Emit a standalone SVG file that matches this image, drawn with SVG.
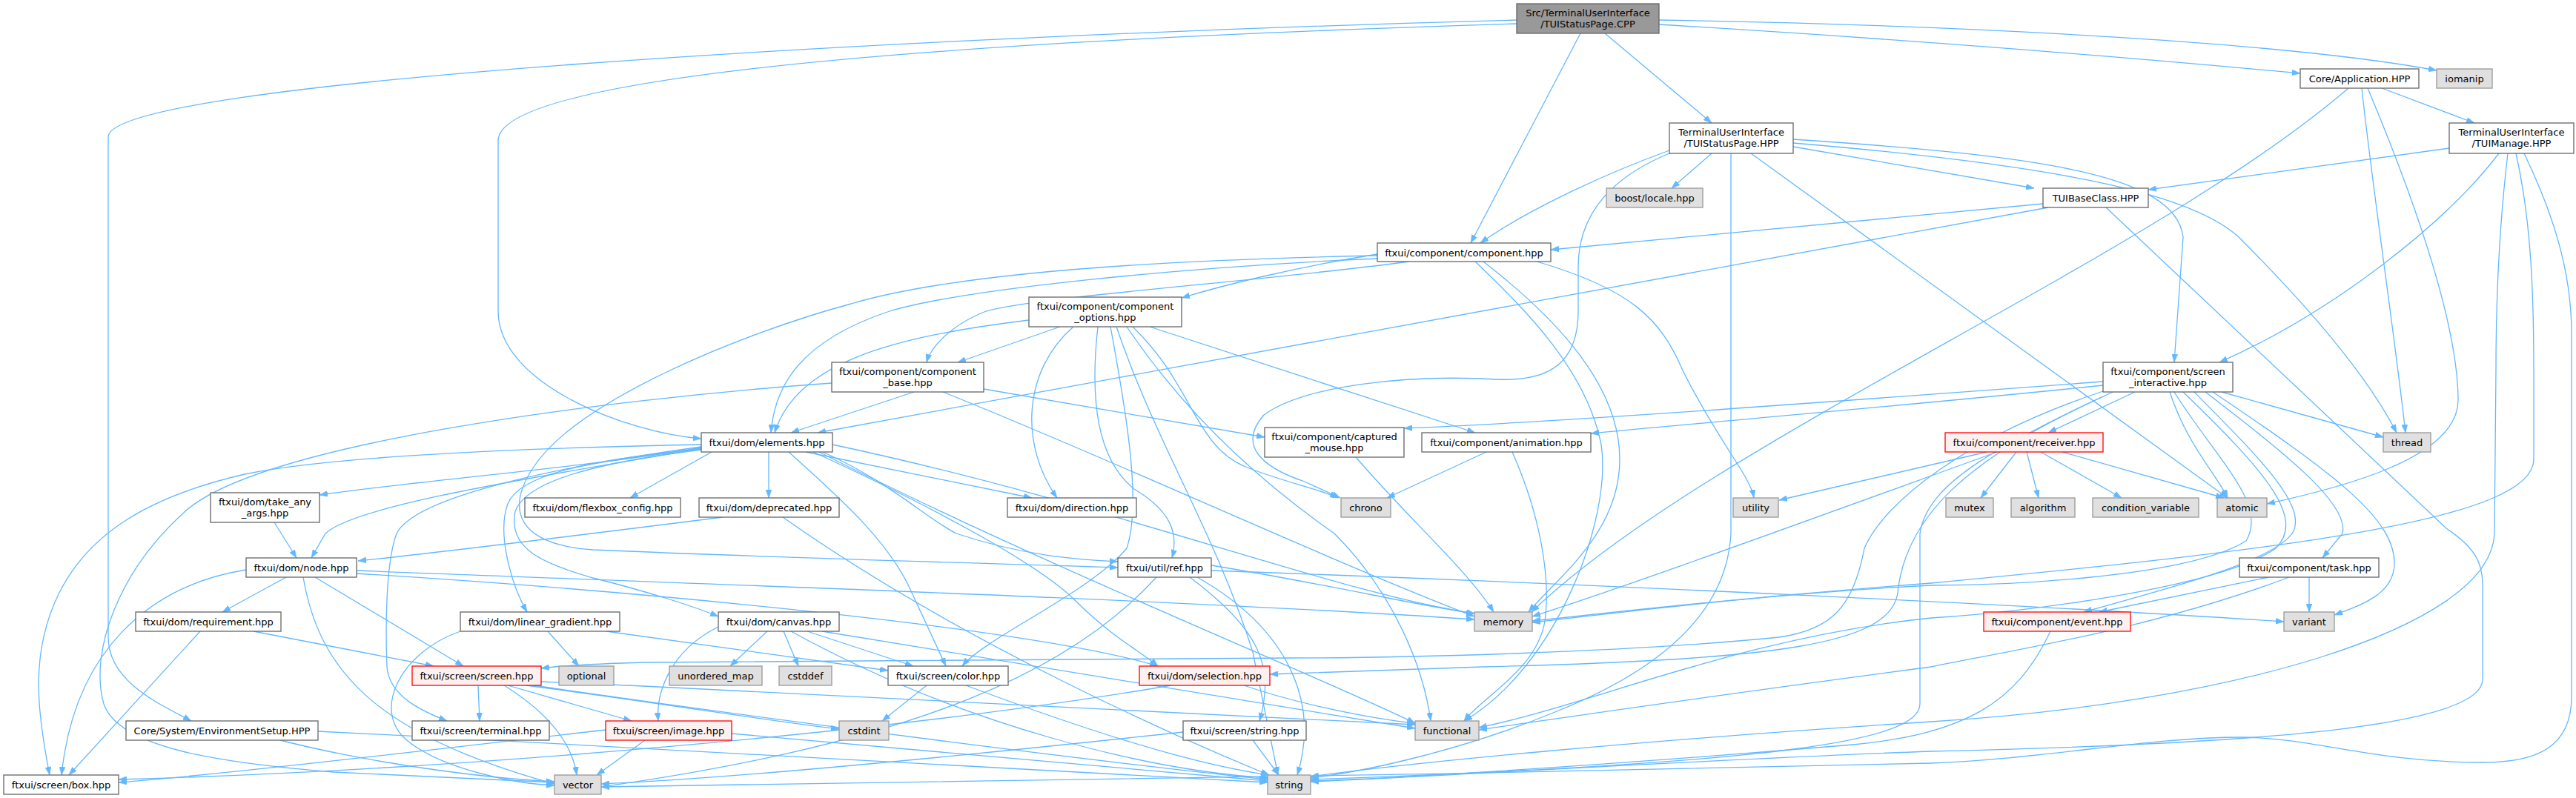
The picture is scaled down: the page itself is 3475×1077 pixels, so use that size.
<svg xmlns="http://www.w3.org/2000/svg" width="3475" height="1077" viewBox="0 0 3475 1077">
<style>
rect{stroke-width:1.3}
.n{fill:#fff;stroke:#666}
.g{fill:#e0e0e0;stroke:#999}
.r{fill:#fff0f0;stroke:#f00}
.root{fill:#999;stroke:#666}
text{font-family:"DejaVu Sans","Liberation Sans",sans-serif;font-size:13px;fill:#000;text-anchor:middle}
#edges path{fill:none;stroke:#63b8ff;stroke-width:1.3;marker-end:url(#a)}
</style>
<defs>
<marker id="a" viewBox="0 0 11 8" refX="11" refY="4" markerWidth="11" markerHeight="8" markerUnits="userSpaceOnUse" orient="auto"><path d="M0,0 L11,4 L0,8 z" fill="#63b8ff" stroke="#63b8ff" stroke-width="0.5"/></marker>
</defs>
<rect width="3475" height="1077" fill="#fff"/>
<g id="edges">
<path d="M2046,27 C1200,50 146,110 146,185 L146,860 C146,920 215,950 258,973"/>
<path d="M2046,32 C1300,55 672,100 672,190 L672,420 C672,520 850,585 946,592"/>
<path d="M2132,45 L1984,328"/>
<path d="M2165,45 L2309,166"/>
<path d="M2238,33 C2600,55 2900,80 3103,99"/>
<path d="M2238,27 C2700,35 3100,60 3287,95"/>
<path d="M3168,119 C2900,350 2300,600 2066,826"/>
<path d="M3186,119 C3200,250 3230,450 3245,584"/>
<path d="M3194,119 C3270,300 3316,450 3316,540 C3316,620 3150,660 3058,680"/>
<path d="M3213,119 L3338,166"/>
<path d="M3304,200 L2898,256"/>
<path d="M3371,207 C3300,300 3150,420 2994,489"/>
<path d="M3383,207 C3372,300 3367,400 3367,500 L3365,720 C3360,850 3000,950 2605,974 C2200,1000 1900,1030 1768,1048"/>
<path d="M3394,207 C3415,300 3418,400 3418,500 L3418,620 C3418,700 3100,740 2605,787 C2300,810 2150,830 2067,838"/>
<path d="M3405,207 C3440,280 3469,360 3469,450 L3469,940 C3469,1010 3420,1029 3349,1029 C3200,1029 3120,995 3022,995 C2900,995 2750,1025 2605,1030 C2000,1045 1100,1060 811,1062"/>
<path d="M2252,203 C2150,240 2050,290 1997,328"/>
<path d="M2252,207 C2160,245 2129,300 2129,360 L2129,420 C2129,490 2090,515 2020,512 C1900,505 1760,520 1705,560 C1670,600 1700,630 1760,650 L1808,672"/>
<path d="M2309,207 L2255,254"/>
<path d="M2335,207 L2335,720 C2330,820 2250,900 2100,960 C1980,1010 1850,1040 1768,1050"/>
<path d="M2362,207 L3005,672"/>
<path d="M2419,198 L2744,254"/>
<path d="M2419,188 C2750,210 2935,235 2945,320 L2933,489"/>
<path d="M2419,193 C2800,225 2960,265 3020,320 C3100,400 3190,500 3233,584"/>
<path d="M2756,275 L2092,337"/>
<path d="M2763,280 L1103,584"/>
<path d="M2841,280 L3300,713 C3340,740 3349,760 3349,790 L3349,917 C3349,985 3000,1005 2605,1014 C2300,1025 1900,1050 1768,1055"/>
<path d="M1901,353 C1700,380 1400,400 1330,420 C1280,440 1255,470 1250,489"/>
<path d="M1858,343 C1750,360 1650,385 1594,402"/>
<path d="M1858,349 C1600,360 1300,390 1200,420 C1080,460 1045,520 1040,584"/>
<path d="M1858,345 C1600,350 1300,365 1148,410 C1000,450 780,540 720,630 C680,690 700,735 800,742 C1100,755 1400,762 1508,766"/>
<path d="M1990,353 C2060,420 2140,500 2160,600 C2175,700 2100,900 1975,973"/>
<path d="M2001,353 C2100,430 2185,520 2185,620 C2185,720 2100,780 2062,826"/>
<path d="M2073,353 C2200,390 2240,430 2270,500 C2320,600 2360,640 2366,672"/>
<path d="M1430,441 L1292,489"/>
<path d="M1388,432 C1200,455 1075,490 1045,584"/>
<path d="M1448,441 C1380,500 1375,600 1426,672"/>
<path d="M1481,441 C1470,540 1480,620 1530,660 C1580,690 1590,720 1581,753"/>
<path d="M1498,441 C1520,560 1540,680 1520,740 C1470,800 1330,860 1298,899"/>
<path d="M1506,441 C1560,600 1640,720 1690,880 L1724,1046"/>
<path d="M1528,441 C1610,520 1610,600 1680,630 C1730,650 1780,660 1805,672"/>
<path d="M1551,441 L1990,584"/>
<path d="M1520,441 C1600,560 1700,650 1800,720 C1880,800 1920,900 1930,973"/>
<path d="M1233,529 L1067,584"/>
<path d="M1122,517 C800,540 350,600 250,690 C160,770 120,880 140,950 C160,1010 300,1030 450,1042 L748,1056"/>
<path d="M1272,529 C1500,620 1800,760 1989,832"/>
<path d="M1327,525 L1706,590"/>
<path d="M946,604 C800,630 550,650 431,668"/>
<path d="M946,605 C750,640 480,680 439,720 L420,753"/>
<path d="M960,610 L850,672"/>
<path d="M1037,610 L1037,672"/>
<path d="M1087,610 L1392,672"/>
<path d="M946,607 C800,625 710,650 695,690 C685,740 730,760 800,780 C880,800 940,820 969,832"/>
<path d="M946,606 C800,620 700,640 685,680 C670,720 690,790 711,826"/>
<path d="M1110,610 C1200,650 1250,700 1290,720 C1380,750 1450,755 1508,758"/>
<path d="M1064,610 C1130,670 1200,730 1230,800 L1276,899"/>
<path d="M1097,610 C1250,680 1400,760 1450,810 C1500,860 1540,880 1562,899"/>
<path d="M1123,600 C1500,680 1800,800 1989,828"/>
<path d="M1105,610 C1400,760 1750,900 1909,976"/>
<path d="M946,600 C700,605 450,615 330,640 C200,670 120,720 80,800 C40,880 50,960 67,1046"/>
<path d="M946,603 C750,630 560,670 535,720 C520,760 520,850 522,900 C525,940 570,960 603,973"/>
<path d="M370,705 L400,753"/>
<path d="M975,698 C800,720 600,745 483,757"/>
<path d="M1056,698 C1300,870 1600,1000 1712,1046"/>
<path d="M332,769 C200,790 100,880 83,1046"/>
<path d="M386,779 L300,826"/>
<path d="M409,779 C430,900 500,990 748,1058"/>
<path d="M425,779 L625,899"/>
<path d="M481,770 C1000,790 1600,810 1989,836"/>
<path d="M481,774 C900,800 1400,850 1562,899"/>
<path d="M270,852 L93,1046"/>
<path d="M342,852 L585,899"/>
<path d="M621,852 C540,880 500,960 550,1000 C600,1040 700,1058 748,1060"/>
<path d="M739,852 L781,899"/>
<path d="M818,852 L1198,905"/>
<path d="M969,846 C900,880 885,940 888,973"/>
<path d="M1035,852 L985,899"/>
<path d="M1057,852 L1077,899"/>
<path d="M1067,852 C1300,980 1550,1040 1712,1050"/>
<path d="M1089,852 L1232,899"/>
<path d="M1109,852 L1909,983"/>
<path d="M645,925 L647,973"/>
<path d="M680,925 C720,950 770,990 778,1046"/>
<path d="M685,925 L852,973"/>
<path d="M720,925 C1100,980 1500,1030 1710,1052"/>
<path d="M710,925 C900,950 1050,975 1132,984"/>
<path d="M730,920 C1200,940 1700,965 1909,978"/>
<path d="M817,985 C600,1010 300,1045 160,1056"/>
<path d="M870,999 L805,1046"/>
<path d="M987,990 C1300,1020 1550,1040 1710,1054"/>
<path d="M378,999 C500,1030 650,1050 748,1055"/>
<path d="M429,987 C900,1010 1400,1040 1710,1056"/>
<path d="M1250,925 L1190,973"/>
<path d="M1303,925 C1450,980 1600,1030 1712,1046"/>
<path d="M1678,925 C1750,950 1850,970 1909,976"/>
<path d="M1580,925 C1200,990 600,1040 160,1052"/>
<path d="M1690,999 L1725,1046"/>
<path d="M1596,988 C1300,1020 1000,1050 811,1058"/>
<path d="M1560,779 C1450,900 1250,1000 811,1062"/>
<path d="M1605,779 C1700,850 1720,900 1699,973"/>
<path d="M1615,779 C1740,850 1780,950 1750,1046"/>
<path d="M1634,763 C1800,790 1900,815 1989,828"/>
<path d="M1634,770 C2200,790 2800,820 3081,839"/>
<path d="M1829,617 C1900,700 1980,770 2015,826"/>
<path d="M2005,610 L1871,672"/>
<path d="M2040,610 C2080,700 2090,780 2085,830 C2080,900 2000,940 1975,973"/>
<path d="M2880,529 L2763,584"/>
<path d="M2997,529 L3215,590"/>
<path d="M2927,529 C2950,600 2990,640 3005,672"/>
<path d="M2837,515 C2500,540 2100,570 1894,578"/>
<path d="M2837,520 C2600,545 2300,570 2146,585"/>
<path d="M2837,528 C2650,590 2540,680 2515,740 C2500,820 2470,850 2400,860 C2200,880 1900,888 1740,888 L871,894 C800,896 760,898 730,902"/>
<path d="M2837,535 C2650,620 2570,700 2560,800 C2550,870 2400,890 2000,900 L1713,910"/>
<path d="M2850,529 C2700,600 2600,650 2590,720 L2590,950 C2590,1000 2400,1030 1768,1052"/>
<path d="M2933,529 C2990,620 3060,680 3030,730 C2950,780 2700,790 2605,790 C2400,800 2200,825 2067,840"/>
<path d="M2945,529 C3060,640 3110,700 3070,740 C3000,790 2750,825 2605,834 C2350,860 2150,950 1995,982"/>
<path d="M2960,529 C3050,620 3110,680 3094,717 C3070,760 2900,800 2811,826"/>
<path d="M2975,529 C3080,610 3170,680 3160,720 L3133,753"/>
<path d="M2985,529 C3150,640 3230,700 3230,760 C3230,800 3190,815 3149,830"/>
<path d="M2720,610 L2672,672"/>
<path d="M2734,610 L2750,672"/>
<path d="M2753,610 L2862,672"/>
<path d="M2782,610 L3000,672"/>
<path d="M2680,610 L2400,675"/>
<path d="M2694,610 C2500,680 2200,790 2067,832"/>
<path d="M3060,779 L2832,826"/>
<path d="M3088,779 C2900,850 2700,880 2605,900 C2300,940 2100,970 1995,985"/>
<path d="M3115,779 L3115,826"/>
<path d="M2766,852 C2720,950 2650,990 2500,1005 C2200,1030 1900,1050 1768,1054"/>
</g>
<g id="n_cpp"><rect class="root" x="2046" y="5" width="192" height="40"/><text x="2142" y="21.5">Src/TerminalUserInterface</text><text x="2142" y="36.5">/TUIStatusPage.CPP</text></g>
<g id="n_app"><rect class="n" x="3103" y="93" width="160" height="26"/><text x="3183" y="111">Core/Application.HPP</text></g>
<g id="n_iomanip"><rect class="g" x="3287" y="93" width="75" height="26"/><text x="3324.5" y="111">iomanip</text></g>
<g id="n_tsp"><rect class="n" x="2252" y="166" width="167" height="41"/><text x="2335.5" y="182.5">TerminalUserInterface</text><text x="2335.5" y="197.5">/TUIStatusPage.HPP</text></g>
<g id="n_tmg"><rect class="n" x="3304" y="166" width="168" height="41"/><text x="3388" y="182.5">TerminalUserInterface</text><text x="3388" y="197.5">/TUIManage.HPP</text></g>
<g id="n_boost"><rect class="g" x="2167" y="254" width="130" height="26"/><text x="2232" y="272">boost/locale.hpp</text></g>
<g id="n_tbc"><rect class="n" x="2756" y="254" width="142" height="26"/><text x="2827" y="272">TUIBaseClass.HPP</text></g>
<g id="n_comp"><rect class="n" x="1858" y="328" width="234" height="25"/><text x="1975" y="345.5">ftxui/component/component.hpp</text></g>
<g id="n_opt"><rect class="n" x="1388" y="401" width="206" height="40"/><text x="1491" y="417.5">ftxui/component/component</text><text x="1491" y="432.5">_options.hpp</text></g>
<g id="n_base"><rect class="n" x="1122" y="489" width="205" height="40"/><text x="1224.5" y="505.5">ftxui/component/component</text><text x="1224.5" y="520.5">_base.hpp</text></g>
<g id="n_si"><rect class="n" x="2837" y="489" width="175" height="40"/><text x="2924.5" y="505.5">ftxui/component/screen</text><text x="2924.5" y="520.5">_interactive.hpp</text></g>
<g id="n_elem"><rect class="n" x="946" y="584" width="177" height="26"/><text x="1034.5" y="602">ftxui/dom/elements.hpp</text></g>
<g id="n_cap"><rect class="n" x="1706" y="577" width="188" height="40"/><text x="1800" y="593.5">ftxui/component/captured</text><text x="1800" y="608.5">_mouse.hpp</text></g>
<g id="n_anim"><rect class="n" x="1918" y="584" width="228" height="26"/><text x="2032" y="602">ftxui/component/animation.hpp</text></g>
<g id="n_recv"><rect class="r" x="2624" y="584" width="213" height="26"/><text x="2730.5" y="602">ftxui/component/receiver.hpp</text></g>
<g id="n_thread"><rect class="g" x="3215" y="584" width="64" height="26"/><text x="3247" y="602">thread</text></g>
<g id="n_take"><rect class="n" x="284" y="665" width="147" height="40"/><text x="357.5" y="681.5">ftxui/dom/take_any</text><text x="357.5" y="696.5">_args.hpp</text></g>
<g id="n_flex"><rect class="n" x="708" y="672" width="210" height="26"/><text x="813" y="690">ftxui/dom/flexbox_config.hpp</text></g>
<g id="n_depr"><rect class="n" x="943" y="672" width="189" height="26"/><text x="1037.5" y="690">ftxui/dom/deprecated.hpp</text></g>
<g id="n_dir"><rect class="n" x="1359" y="672" width="174" height="26"/><text x="1446" y="690">ftxui/dom/direction.hpp</text></g>
<g id="n_chrono"><rect class="g" x="1809" y="672" width="67" height="26"/><text x="1842.5" y="690">chrono</text></g>
<g id="n_utility"><rect class="g" x="2338" y="672" width="61" height="26"/><text x="2368.5" y="690">utility</text></g>
<g id="n_mutex"><rect class="g" x="2625" y="672" width="64" height="26"/><text x="2657" y="690">mutex</text></g>
<g id="n_algo"><rect class="g" x="2713" y="672" width="86" height="26"/><text x="2756" y="690">algorithm</text></g>
<g id="n_cv"><rect class="g" x="2823" y="672" width="143" height="26"/><text x="2894.5" y="690">condition_variable</text></g>
<g id="n_atomic"><rect class="g" x="2991" y="672" width="67" height="26"/><text x="3024.5" y="690">atomic</text></g>
<g id="n_node"><rect class="n" x="332" y="753" width="149" height="26"/><text x="406.5" y="771">ftxui/dom/node.hpp</text></g>
<g id="n_ref"><rect class="n" x="1508" y="753" width="126" height="26"/><text x="1571" y="771">ftxui/util/ref.hpp</text></g>
<g id="n_task"><rect class="n" x="3021" y="753" width="188" height="26"/><text x="3115" y="771">ftxui/component/task.hpp</text></g>
<g id="n_req"><rect class="n" x="183" y="826" width="196" height="26"/><text x="281" y="844">ftxui/dom/requirement.hpp</text></g>
<g id="n_lg"><rect class="n" x="621" y="826" width="215" height="26"/><text x="728.5" y="844">ftxui/dom/linear_gradient.hpp</text></g>
<g id="n_canvas"><rect class="n" x="969" y="826" width="163" height="26"/><text x="1050.5" y="844">ftxui/dom/canvas.hpp</text></g>
<g id="n_memory"><rect class="g" x="1989" y="826" width="78" height="26"/><text x="2028" y="844">memory</text></g>
<g id="n_event"><rect class="r" x="2676" y="826" width="198" height="26"/><text x="2775" y="844">ftxui/component/event.hpp</text></g>
<g id="n_variant"><rect class="g" x="3081" y="826" width="68" height="26"/><text x="3115" y="844">variant</text></g>
<g id="n_screen"><rect class="r" x="556" y="899" width="174" height="26"/><text x="643" y="917">ftxui/screen/screen.hpp</text></g>
<g id="n_optional"><rect class="g" x="754" y="899" width="74" height="26"/><text x="791" y="917">optional</text></g>
<g id="n_umap"><rect class="g" x="903" y="899" width="125" height="26"/><text x="965.5" y="917">unordered_map</text></g>
<g id="n_cstddef"><rect class="g" x="1051" y="899" width="71" height="26"/><text x="1086.5" y="917">cstddef</text></g>
<g id="n_color"><rect class="n" x="1198" y="899" width="162" height="26"/><text x="1279" y="917">ftxui/screen/color.hpp</text></g>
<g id="n_sel"><rect class="r" x="1537" y="899" width="176" height="26"/><text x="1625" y="917">ftxui/dom/selection.hpp</text></g>
<g id="n_env"><rect class="n" x="170" y="973" width="259" height="26"/><text x="299.5" y="991">Core/System/EnvironmentSetup.HPP</text></g>
<g id="n_term"><rect class="n" x="556" y="973" width="185" height="26"/><text x="648.5" y="991">ftxui/screen/terminal.hpp</text></g>
<g id="n_image"><rect class="r" x="817" y="973" width="170" height="26"/><text x="902" y="991">ftxui/screen/image.hpp</text></g>
<g id="n_cstdint"><rect class="g" x="1132" y="973" width="67" height="26"/><text x="1165.5" y="991">cstdint</text></g>
<g id="n_sstr"><rect class="n" x="1596" y="973" width="166" height="26"/><text x="1679" y="991">ftxui/screen/string.hpp</text></g>
<g id="n_func"><rect class="g" x="1909" y="973" width="86" height="26"/><text x="1952" y="991">functional</text></g>
<g id="n_box"><rect class="n" x="5" y="1046" width="155" height="26"/><text x="82.5" y="1064">ftxui/screen/box.hpp</text></g>
<g id="n_vector"><rect class="g" x="748" y="1046" width="63" height="26"/><text x="779.5" y="1064">vector</text></g>
<g id="n_string"><rect class="g" x="1710" y="1046" width="58" height="26"/><text x="1739" y="1064">string</text></g>
</svg>
